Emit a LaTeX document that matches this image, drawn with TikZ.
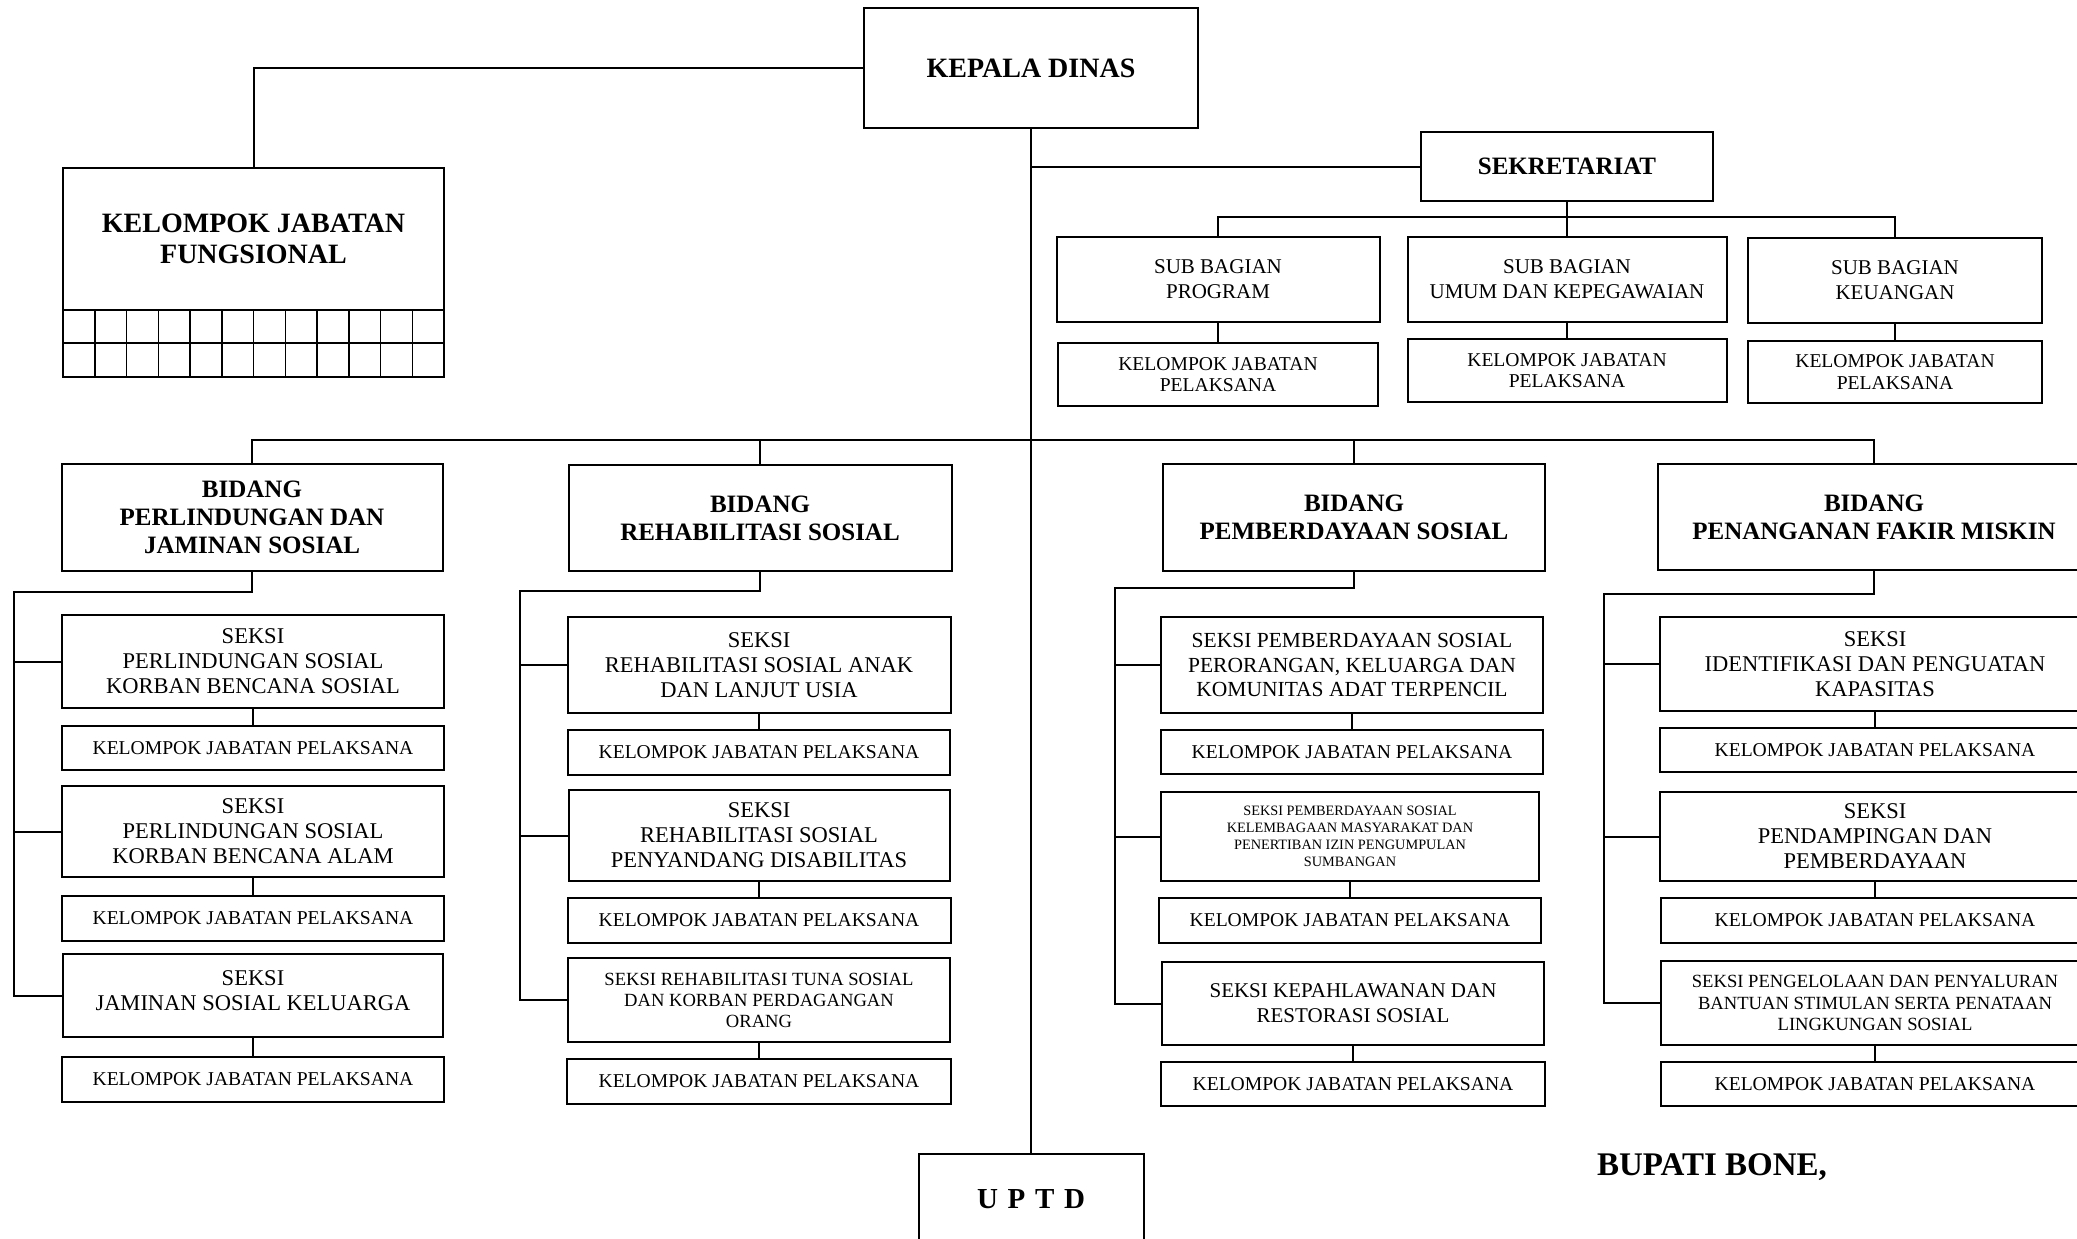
\documentclass[tikz,border=0pt]{standalone}
\usepackage{fontspec}
\setmainfont{Liberation Serif}
\usetikzlibrary{calc}

\tikzset{
  unit/.style={draw, line width=2pt, align=center, inner sep=0pt},
  bighead/.style={unit, font=\bfseries\fontsize{28}{31}\selectfont},
  head/.style={unit, font=\bfseries\fontsize{25}{28}\selectfont},
  subbag/.style={unit, font=\fontsize{21}{25}\selectfont},
  seksi/.style={unit, font=\fontsize{22.5}{25}\selectfont},
  pelaksana/.style={unit, font=\fontsize{19.6}{21.5}\selectfont},
  link/.style={line width=2pt},
}

\begin{document}
\begin{tikzpicture}[x=1pt,y=-1pt]
		\useasboundingbox (0,0) rectangle (2077,1239);
		\clip (0,0) rectangle (2077,1239);
		\fill[white] (0,0) rectangle (2077,1239);

		%%%%% PIMPINAN %%%%%
		\node[bighead, minimum width=334pt, minimum height=120pt] (kadis) at (1031,68) {KEPALA DINAS};
		\node[bighead, minimum width=381pt, minimum height=142pt] (kjf) at (253.5,239) {KELOMPOK JABATAN\\FUNGSIONAL};
		\draw[line width=2pt] (63,310) rectangle (444,377);
		\draw[line width=2pt] (63,343) -- (444,343);
		\foreach \i in {1,...,11}
			\draw[line width=1.5pt] (63+\i*31.75,310) -- (63+\i*31.75,377);
		\draw[link] (kadis.west) -| (kjf.north);

		%%%%% SEKRETARIAT %%%%%
		\node[head, minimum width=292pt, minimum height=69pt] (sek) at (1567,166.5) {SEKRETARIAT};
		\node[subbag, minimum width=323pt, minimum height=85pt] (sb1) at (1218,279.5) {SUB BAGIAN\\PROGRAM};
		\node[subbag, minimum width=319pt, minimum height=85pt] (sb2) at (1567,279.5) {SUB BAGIAN\\UMUM DAN KEPEGAWAIAN};
		\node[subbag, minimum width=294pt, minimum height=85pt] (sb3) at (1895,280.5) {SUB BAGIAN\\KEUANGAN};
		\node[pelaksana, minimum width=320pt, minimum height=63pt] (k1) at (1218,374.5) {KELOMPOK JABATAN\\PELAKSANA};
		\node[pelaksana, minimum width=319pt, minimum height=63pt] (k2) at (1567,370.5) {KELOMPOK JABATAN\\PELAKSANA};
		\node[pelaksana, minimum width=294pt, minimum height=62pt] (k3) at (1895,372) {KELOMPOK JABATAN\\PELAKSANA};
		\coordinate (sbus) at (1567,217);
		\draw[link] (sek.west) -- (sek.west -| kadis.south);
		\draw[link] (sek.south) -- (sb2.north);
		\draw[link] (sb1.north) |- (sbus) -| (sb3.north);
		\draw[link] (sb1) -- (k1);
		\draw[link] (sb2) -- (k2);
		\draw[link] (sb3) -- (k3);

		%%%%% BIDANG %%%%%
		\node[head, minimum width=381pt, minimum height=107pt] (b1) at (252,517.5) {BIDANG\\PERLINDUNGAN DAN\\JAMINAN SOSIAL};
		\node[head, minimum width=383pt, minimum height=106pt] (b2) at (760,518) {BIDANG\\REHABILITASI SOSIAL};
		\node[head, minimum width=382pt, minimum height=107pt] (b3) at (1354,517.5) {BIDANG\\PEMBERDAYAAN SOSIAL};
		\node[head, minimum width=432pt, minimum height=106pt] (b4) at (1874,517) {BIDANG\\PENANGANAN FAKIR MISKIN};
		\coordinate (bus) at (1031,440);
		\draw[link] (b1.north) |- (bus) -| (b4.north);
		\draw[link] (b2.north) -- (b2.north |- bus);
		\draw[link] (b3.north) -- (b3.north |- bus);

		%%%%% UPTD %%%%%
		\node[unit, minimum width=225pt, minimum height=118pt, anchor=north] (uptd) at (1031,1153) {};
		\node[font=\bfseries\fontsize{29}{32}\selectfont] (uptdtext) at (1031,1199) {U\,\,P\,\,T\,\,D};
		\draw[line width=1.5pt] (kadis.south) -- (uptd.north);

		%%%%% KOLOM 1 %%%%%
		\node[seksi, minimum width=382pt, minimum height=93pt] (s11) at (253,661.5) {SEKSI\\PERLINDUNGAN SOSIAL\\KORBAN BENCANA SOSIAL};
		\node[pelaksana, minimum width=382pt, minimum height=44pt] (k11) at (253,748) {KELOMPOK JABATAN PELAKSANA};
		\node[seksi, minimum width=382pt, minimum height=91pt] (s12) at (253,831.5) {SEKSI\\PERLINDUNGAN SOSIAL\\KORBAN BENCANA ALAM};
		\node[pelaksana, minimum width=382pt, minimum height=45pt] (k12) at (253,918.5) {KELOMPOK JABATAN PELAKSANA};
		\node[seksi, minimum width=380pt, minimum height=83pt] (s13) at (253,995.5) {};
		\node[font=\fontsize{22.5}{25}\selectfont, align=center, inner sep=0pt] (s13text) at (253,991) {SEKSI\\JAMINAN SOSIAL KELUARGA};
		\node[pelaksana, minimum width=382pt, minimum height=45pt] (k13) at (253,1079.5) {KELOMPOK JABATAN PELAKSANA};
		\coordinate (r1) at (14,592);
		\draw[link] (b1.south) |- (r1) |- (s13.west);
		\draw[link] (r1 |- s11.west) -- (s11.west);
		\draw[link] (r1 |- s12.west) -- (s12.west);
		\draw[link] (s11) -- (k11);
		\draw[link] (s12) -- (k12);
		\draw[link] (s13) -- (k13);

		%%%%% KOLOM 2 %%%%%
		\node[seksi, minimum width=383pt, minimum height=96pt] (s21) at (759,665) {SEKSI\\REHABILITASI SOSIAL ANAK\\DAN LANJUT USIA};
		\node[pelaksana, minimum width=382pt, minimum height=45pt] (k21) at (759,752.5) {KELOMPOK JABATAN PELAKSANA};
		\node[seksi, minimum width=381pt, minimum height=91pt] (s22) at (759,835.5) {SEKSI\\REHABILITASI SOSIAL\\PENYANDANG DISABILITAS};
		\node[pelaksana, minimum width=383pt, minimum height=45pt] (k22) at (759,920.5) {KELOMPOK JABATAN PELAKSANA};
		\node[seksi, font=\fontsize{18.6}{21}\selectfont, minimum width=382pt, minimum height=84pt] (s23) at (759,1000) {SEKSI REHABILITASI TUNA SOSIAL\\DAN KORBAN PERDAGANGAN\\ORANG};
		\node[pelaksana, minimum width=384pt, minimum height=45pt] (k23) at (759,1081.5) {KELOMPOK JABATAN PELAKSANA};
		\coordinate (r2) at (520,591);
		\draw[link] (b2.south) |- (r2) |- (s23.west);
		\draw[link] (r2 |- s21.west) -- (s21.west);
		\draw[link] (r2 |- s22.west) -- (s22.west);
		\draw[link] (s21) -- (k21);
		\draw[link] (s22) -- (k22);
		\draw[link] (s23) -- (k23);

		%%%%% KOLOM 3 %%%%%
		\node[seksi, font=\fontsize{21.5}{24.5}\selectfont, minimum width=382pt, minimum height=96pt] (s31) at (1352,665) {SEKSI PEMBERDAYAAN SOSIAL\\PERORANGAN, KELUARGA DAN\\KOMUNITAS ADAT TERPENCIL};
		\node[pelaksana, minimum width=382pt, minimum height=44pt] (k31) at (1352,752) {KELOMPOK JABATAN PELAKSANA};
		\node[seksi, font=\fontsize{14.3}{17}\selectfont, minimum width=378pt, minimum height=89pt] (s32) at (1350,836.5) {SEKSI PEMBERDAYAAN SOSIAL\\KELEMBAGAAN MASYARAKAT DAN\\PENERTIBAN IZIN PENGUMPULAN\\SUMBANGAN};
		\node[pelaksana, minimum width=382pt, minimum height=45pt] (k32) at (1350,920.5) {KELOMPOK JABATAN PELAKSANA};
		\node[seksi, font=\fontsize{21}{25}\selectfont, minimum width=382pt, minimum height=83pt] (s33) at (1353,1003.5) {SEKSI KEPAHLAWANAN DAN\\RESTORASI SOSIAL};
		\node[pelaksana, minimum width=384pt, minimum height=44pt] (k33) at (1353,1084) {KELOMPOK JABATAN PELAKSANA};
		\coordinate (r3) at (1115,588);
		\draw[link] (b3.south) |- (r3) |- (s33.west);
		\draw[link] (r3 |- s31.west) -- (s31.west);
		\draw[link] (r3 |- s32.west) -- (s32.west);
		\draw[link] (s31) -- (k31);
		\draw[link] (s32) -- (k32);
		\draw[link] (s33) -- (k33);

		%%%%% KOLOM 4 %%%%%
		\node[seksi, minimum width=431pt, minimum height=94pt] (s41) at (1875,664) {SEKSI\\IDENTIFIKASI DAN PENGUATAN\\KAPASITAS};
		\node[pelaksana, minimum width=431pt, minimum height=44pt] (k41) at (1875,750) {KELOMPOK JABATAN PELAKSANA};
		\node[seksi, minimum width=431pt, minimum height=89pt] (s42) at (1875,836.5) {SEKSI\\PENDAMPINGAN DAN\\PEMBERDAYAAN};
		\node[pelaksana, minimum width=429pt, minimum height=45pt] (k42) at (1875,920.5) {KELOMPOK JABATAN PELAKSANA};
		\node[seksi, font=\fontsize{18.6}{21.5}\selectfont, minimum width=429pt, minimum height=84pt] (s43) at (1875,1003) {SEKSI PENGELOLAAN DAN PENYALURAN\\BANTUAN STIMULAN SERTA PENATAAN\\LINGKUNGAN SOSIAL};
		\node[pelaksana, minimum width=429pt, minimum height=44pt] (k43) at (1875,1084) {KELOMPOK JABATAN PELAKSANA};
		\coordinate (r4) at (1604,594);
		\draw[link] (b4.south) |- (r4) |- (s43.west);
		\draw[link] (r4 |- s41.west) -- (s41.west);
		\draw[link] (r4 |- s42.west) -- (s42.west);
		\draw[link] (s41) -- (k41);
		\draw[link] (s42) -- (k42);
		\draw[link] (s43) -- (k43);

		%%%%% TANDA TANGAN %%%%%
		\node[font=\bfseries\fontsize{33}{36}\selectfont] (bupati) at (1712,1167) {BUPATI BONE,};
	\end{tikzpicture}
\end{document}
